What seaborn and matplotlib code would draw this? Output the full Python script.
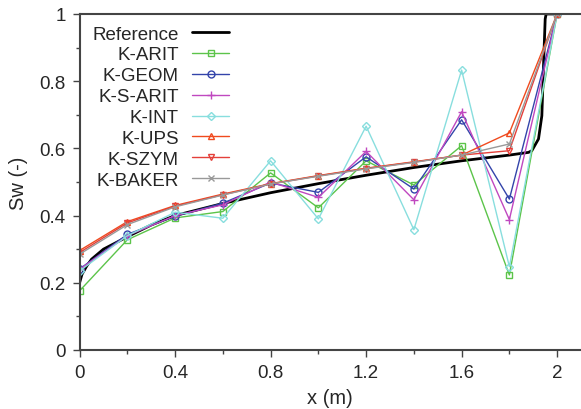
import matplotlib
matplotlib.use("Agg")
import matplotlib.pyplot as plt
import seaborn as sns
import pandas as pd
from matplotlib.ticker import MultipleLocator

sns.set_theme(style="white")
plt.rcParams['font.family'] = ['Liberation Sans', 'DejaVu Sans']

x_pts = [0.0, 0.2, 0.4, 0.6, 0.8, 1.0, 1.2, 1.4, 1.6, 1.8, 2.0]

ref_x = [0.0, 0.01, 0.03, 0.05, 0.1, 0.2, 0.3, 0.4, 0.6, 0.8, 1.0, 1.2, 1.4,
         1.6, 1.8, 1.88, 1.894, 1.922, 1.936, 1.943, 1.950, 1.954, 2.0]
ref_y = [0.20, 0.225, 0.25, 0.27, 0.30, 0.337, 0.372, 0.40, 0.436, 0.468,
         0.495, 0.52, 0.543, 0.563, 0.58, 0.588, 0.593, 0.628, 0.697, 0.846,
         0.985, 1.0, 1.0]

k_arit = [0.176, 0.328, 0.393, 0.412, 0.527, 0.423, 0.563, 0.491, 0.608, 0.223, 1.0]
k_geom = [0.241, 0.344, 0.398, 0.437, 0.497, 0.469, 0.575, 0.479, 0.685, 0.449, 1.0]
k_sarit = [0.240, 0.340, 0.400, 0.432, 0.500, 0.454, 0.591, 0.447, 0.709, 0.388, 1.0]
k_int = [0.235, 0.340, 0.410, 0.392, 0.563, 0.390, 0.666, 0.358, 0.833, 0.248, 1.0]
k_ups = [0.296, 0.382, 0.430, 0.464, 0.495, 0.519, 0.541, 0.560, 0.580, 0.646, 1.0]
k_szym = [0.290, 0.378, 0.428, 0.462, 0.494, 0.518, 0.540, 0.559, 0.580, 0.593, 1.0]
k_baker = [0.285, 0.373, 0.426, 0.461, 0.494, 0.517, 0.539, 0.558, 0.580, 0.613, 1.0]

series = [
    ("K-ARIT", k_arit, "#5cc44a", "s", 5),
    ("K-GEOM", k_geom, "#3344aa", "o", 5),
    ("K-S-ARIT", k_sarit, "#c048c0", "+", 6),
    ("K-INT", k_int, "#88dede", "D", 4),
    ("K-UPS", k_ups, "#f04a1e", "^", 5),
    ("K-SZYM", k_szym, "#e4403a", "v", 5),
    ("K-BAKER", k_baker, "#999999", "x", 5),
]

fig = plt.figure(figsize=(5.81, 4.10), dpi=100)
ax = fig.add_axes([0.137, 0.144, 0.863, 0.8195])

sns.lineplot(x=ref_x, y=ref_y, ax=ax, color="black", lw=2.0, sort=False,
             estimator=None, label="Reference")
for name, vals, col, mk, ms in series:
    df = pd.DataFrame({"x": x_pts, "y": vals})
    sns.lineplot(data=df, x="x", y="y", ax=ax, color=col, lw=1.0, marker=mk,
                 markersize=ms, markerfacecolor="none", markeredgecolor=col,
                 markeredgewidth=1.0, sort=False, estimator=None, label=name)

ax.set_xlim(0, 2.1)
ax.set_ylim(0, 1)
ax.xaxis.set_minor_locator(MultipleLocator(0.2))
ax.yaxis.set_minor_locator(MultipleLocator(0.1))
ax.set_xticks([0, 0.4, 0.8, 1.2, 1.6, 2.0])
ax.set_xticklabels(["0", "0.4", "0.8", "1.2", "1.6", "2"])
ax.set_yticks([0, 0.2, 0.4, 0.6, 0.8, 1.0])
ax.set_yticklabels(["0", "0.2", "0.4", "0.6", "0.8", "1"])
ax.tick_params(axis="both", which="major", direction="out", length=5, width=1,
               color="#444444", labelsize=13.5, left=True, bottom=True)
ax.tick_params(axis="y", which="major", pad=5)
ax.tick_params(axis="x", which="major", pad=5)
ax.tick_params(axis="both", which="minor", direction="out", length=3, width=1,
               color="#444444", left=True, bottom=True)
ax.set_xlabel("x (m)", fontsize=14.5, labelpad=5)
ax.set_ylabel("Sw (-)", fontsize=14.5, labelpad=8)

for s in ["left", "bottom", "top"]:
    ax.spines[s].set_color("#444444")
    ax.spines[s].set_linewidth(1.5)
ax.spines["right"].set_visible(False)

leg = ax.legend(loc="upper left", frameon=False, markerfirst=False,
                fontsize=13.5, handlelength=2.0, handletextpad=0.7,
                labelspacing=0.2, borderaxespad=0.0,
                bbox_to_anchor=(0.0104, 0.988))

fig.savefig("out.png", dpi=100)
